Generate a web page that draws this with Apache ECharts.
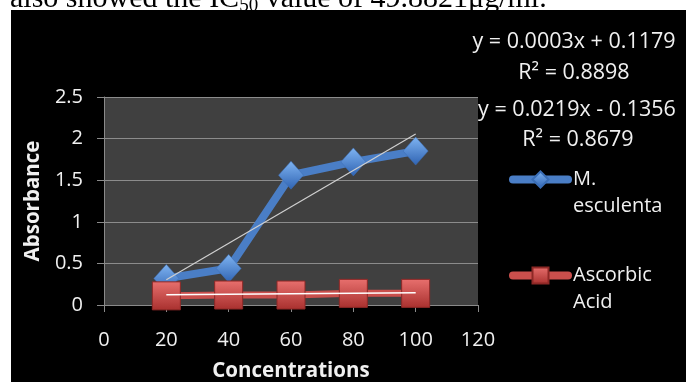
<!DOCTYPE html>
<html><head><meta charset="utf-8">
<script src="https://cdn.jsdelivr.net/npm/echarts@6/dist/echarts.min.js"></script>
<style>html,body{margin:0;padding:0;background:#fff}#c{width:686px;height:382px}</style>
</head><body><div id="c"></div>
<script>
// ---- data ----
const concentrations = [20, 40, 60, 80, 100];
const esculenta = [0.32, 0.44, 1.56, 1.72, 1.85];
const ascorbic = [0.11, 0.12, 0.12, 0.14, 0.14];
const xTicks = [0, 20, 40, 60, 80, 100, 120];
const yTicks = [0, 0.5, 1, 1.5, 2, 2.5];
const seriesNames = ['M.\nesculenta', 'Ascorbic\nAcid'];
const trendEsculenta = [0.0219, -0.1356, 0.8679]; // slope, intercept, R²
const trendAscorbic = [0.0003, 0.1179, 0.8898];
const xTitle = 'Concentrations';
const yTitle = 'Absorbance';
const headerPieces = ['also showed the IC', '50', ' value of 49.8821μg/ml.'];

// ---- helpers ----
const pairs = (xs, ys) => xs.map((x, i) => [x, ys[i]]);
const trendData = (t) => [concentrations[0], concentrations[concentrations.length - 1]].map(x => [x, t[0] * x + t[1]]);
const eqText = (t) => 'y = ' + t[0].toFixed(4) + 'x ' + (t[1] < 0 ? '- ' : '+ ') + Math.abs(t[1]).toFixed(4);
const r2Text = (t) => 'R² = ' + t[2].toFixed(4);

const FONT = '"Open Sans", "Liberation Sans", sans-serif';
const TXT = '#f0f0f0';
const FS = 20;
const EQF = '21.5px ' + FONT;
const grad = (a, b) => new echarts.graphic.LinearGradient(0, 0, 0, 1, [{offset: 0, color: a}, {offset: 1, color: b}]);

const legendCommon = {orient: 'vertical', left: 509, padding: 0, itemWidth: 55, itemHeight: 20,
  formatter: (name) => '\n' + name,
  textStyle: {color: TXT, fontFamily: FONT, fontSize: FS, lineHeight: 27},
  lineStyle: {width: 8, cap: 'round'}};

const chart = echarts.init(document.getElementById('c'), null, {renderer: 'canvas'});
chart.setOption({
  backgroundColor: '#ffffff',
  animation: false,
  grid: {left: 104, right: 208, top: 97, bottom: 77, show: true, backgroundColor: '#404040', borderWidth: 0,
         containLabel: false, outerBoundsMode: 'none'},
  xAxis: {
    type: 'value', min: xTicks[0], max: xTicks[xTicks.length - 1], interval: xTicks[1] - xTicks[0],
    name: xTitle, nameLocation: 'middle', nameGap: 56,
    nameTextStyle: {color: TXT, fontFamily: FONT, fontSize: 20.5, fontWeight: 'bold'},
    axisLine: {show: true, onZero: false, lineStyle: {color: '#8a8a8a', width: 1}},
    axisTick: {show: true, length: 7, lineStyle: {color: '#8a8a8a'}},
    axisLabel: {color: TXT, fontFamily: FONT, fontSize: FS, margin: 25},
    splitLine: {show: false}
  },
  yAxis: {
    type: 'value', min: yTicks[0], max: yTicks[yTicks.length - 1], interval: yTicks[1] - yTicks[0],
    name: yTitle, nameLocation: 'middle', nameGap: 58, nameRotate: 90,
    nameTextStyle: {color: TXT, fontFamily: FONT, fontSize: 20.5, fontWeight: 'bold'},
    axisLine: {show: true, lineStyle: {color: '#8a8a8a', width: 1}},
    axisTick: {show: true, length: 7, lineStyle: {color: '#8a8a8a'}},
    axisLabel: {color: TXT, fontFamily: FONT, fontSize: FS, margin: 21},
    splitLine: {show: true, lineStyle: {color: '#8c8c8c', width: 1}}
  },
  legend: [
    Object.assign({data: [seriesNames[0]], top: 139}, legendCommon),
    Object.assign({data: [seriesNames[1]], top: 235}, legendCommon)
  ],
  graphic: [
    {type: 'text', left: 10, top: -16, z: -2, silent: true,
     style: {text: '{a|' + headerPieces[0] + '}{s|' + headerPieces[1] + '}{a|' + headerPieces[2] + '}',
       rich: {a: {fontFamily: '"Liberation Serif", serif', fontSize: 30, lineHeight: 34, fill: '#000'},
              s: {fontFamily: '"Liberation Serif", serif', fontSize: 19, lineHeight: 16, verticalAlign: 'bottom', fill: '#000'}}}},
    {type: 'rect', shape: {x: 11, y: 10, width: 700, height: 400}, style: {fill: '#000'}, z: -1, silent: true},
    {type: 'text', x: 574, y: 42, style: {text: eqText(trendAscorbic), fill: TXT, font: EQF, align: 'center', verticalAlign: 'middle'}},
    {type: 'text', x: 574, y: 73, style: {text: r2Text(trendAscorbic), fill: TXT, font: EQF, align: 'center', verticalAlign: 'middle'}},
    {type: 'text', x: 577, y: 110, style: {text: eqText(trendEsculenta), fill: TXT, font: EQF, align: 'center', verticalAlign: 'middle'}},
    {type: 'text', x: 578, y: 140, style: {text: r2Text(trendEsculenta), fill: TXT, font: EQF, align: 'center', verticalAlign: 'middle'}}
  ],
  series: [
    {name: seriesNames[0], type: 'line', data: pairs(concentrations, esculenta), z: 3,
     symbol: 'diamond', symbolSize: [25, 28],
     lineStyle: {color: '#4a7ec6', width: 8},
     itemStyle: {color: grad('#7fb4f2', '#2f63b2'), borderColor: '#3a6db5', borderWidth: 0.5}},
    {name: seriesNames[1], type: 'line', data: pairs(concentrations, ascorbic), z: 4,
     symbol: 'rect', symbolSize: 28,
     lineStyle: {color: '#c94f4c', width: 7},
     itemStyle: {color: grad('#e8706e', '#a8302e'), borderColor: '#8e2826', borderWidth: 1}},
    {name: 'trend1', type: 'line', data: trendData(trendEsculenta), z: 5, symbol: 'none', silent: true,
     lineStyle: {color: '#d0d0d0', width: 1.2}},
    {name: 'trend2', type: 'line', data: trendData(trendAscorbic), z: 5, symbol: 'none', silent: true,
     lineStyle: {color: '#ffffff', width: 1.5}}
  ]
});
</script></body></html>
